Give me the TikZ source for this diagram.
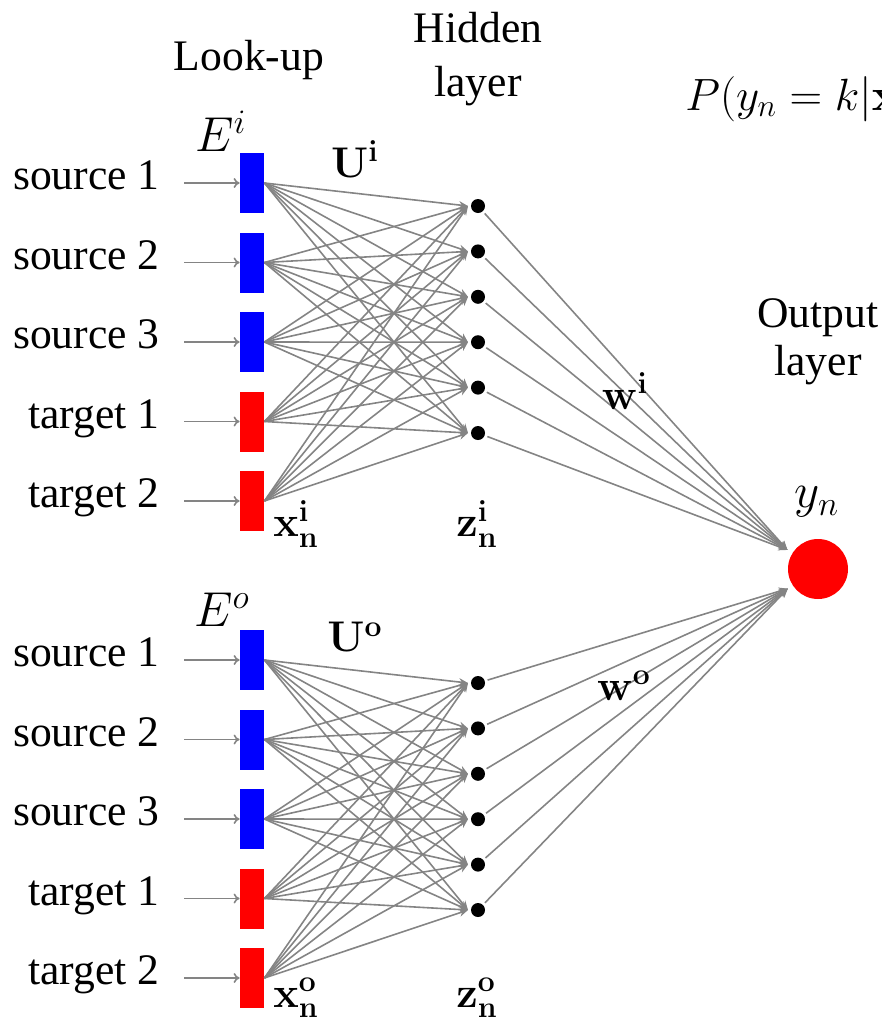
\RequirePackage{fix-cm}
\documentclass[tikz,border=0pt]{standalone}
\usepackage[no-math]{fontspec}
\setmainfont{Liberation Serif}
\usetikzlibrary{arrows.meta,calc}
\definecolor{wire}{RGB}{132,132,132}
\definecolor{embblue}{RGB}{0,0,255}
\definecolor{embred}{RGB}{255,0,0}
\begin{document}
\begin{tikzpicture}[x=0.5pt,y=-0.5pt,
  wire/.style={draw=wire, line width=0.8pt, -{Stealth[length=4.5pt,width=3.8pt]}},
  feed/.style={draw=wire, line width=0.8pt, shorten <=12pt, -{To[length=3pt,width=5pt]}},
  embbox/.style={rectangle, draw=none, minimum width=12pt, minimum height=30pt, inner sep=0pt},
  unit/.style={circle, fill=black, minimum size=7pt, inner sep=0pt, outer sep=1.5pt},
  outunit/.style={circle, fill=embred, minimum size=30pt, inner sep=0pt, outer sep=3pt},
  word/.style={anchor=east, inner sep=0pt, text height=0.68em, text depth=0pt,
    font=\fontsize{21.8}{26}\selectfont},
  head/.style={anchor=base, inner sep=0pt, font=\fontsize{21.8}{26}\selectfont},
  sym/.style={inner sep=0pt, font=\fontsize{21.5}{26}\selectfont},
  isym/.style={inner sep=0pt, font=\fontsize{24.5}{28}\selectfont}
]
\useasboundingbox (0,0) rectangle (882,1023);
\clip (0,0) rectangle (882,1023);

% column headings
\node[head] (lookup) at (249,70) {Look-up};
\node[head] (hid1) at (478,42) {Hidden};
\node[head] (hid2) at (478,96) {layer};
\node[head] (outl1) at (818,327) {Output};
\node[head] (outl2) at (818,375) {layer};
\node[anchor=base west, inner sep=0pt, font=\fontsize{22.6}{27}\selectfont]
  (prob) at (685,110) {$P(y_n = k|\mathbf{x}$};

% output unit
\node[outunit] (out) at (818,569) {};
\node[isym] (yn) at (817,502) {$y_n$};

% two look-up / hidden blocks
\foreach \blk/\dy in {i/0, o/477} {
  \foreach \k/\txt/\col in {1/source 1/embblue, 2/source 2/embblue,
      3/source 3/embblue, 4/target 1/embred, 5/target 2/embred} {
    \node[embbox, fill=\col] (b\blk\k) at (252, {183+79.5*(\k-1)+\dy}) {};
    \node[word] (w\blk\k) at (160, {183+79.5*(\k-1)+\dy}) {\txt};
    \draw[feed] (w\blk\k.east) -- (b\blk\k.west);
  }
  \foreach \j in {1,...,6}
    \node[unit] (h\blk\j) at (478, {206+45.4*(\j-1)+\dy}) {};
  \foreach \k in {1,...,5}
    \foreach \j in {1,...,6}
      \draw[wire] (b\blk\k.east) -- (h\blk\j.west);
}

% hidden units to output
\foreach \j in {1,...,6} {
  \draw[wire] (hi\j) -- (out.148);
  \draw[wire] (ho\j) -- (out.213);
}

% symbols
\node[isym] (Ei) at (221,131) {$E^{i}$};
\node[isym] (Eo) at (222,610) {$E^{o}$};
\node[sym] (Ui) at (355,159) {$\mathbf{U}^{\mathbf{i}}$};
\node[sym] (Uo) at (355,637) {$\mathbf{U}^{\mathbf{o}}$};
\node[sym] (wi) at (625,391) {$\mathbf{w}^{\mathbf{i}}$};
\node[sym] (wo) at (624,686) {$\mathbf{w}^{\mathbf{o}}$};
\node[sym] (xi) at (296,524) {$\mathbf{x}_{\mathbf{n}}^{\mathbf{i}}$};
\node[sym] (zi) at (477,524) {$\mathbf{z}_{\mathbf{n}}^{\mathbf{i}}$};
\node[sym] (xo) at (296,998) {$\mathbf{x}_{\mathbf{n}}^{\mathbf{o}}$};
\node[sym] (zo) at (477,998) {$\mathbf{z}_{\mathbf{n}}^{\mathbf{o}}$};
\end{tikzpicture}
\end{document}
